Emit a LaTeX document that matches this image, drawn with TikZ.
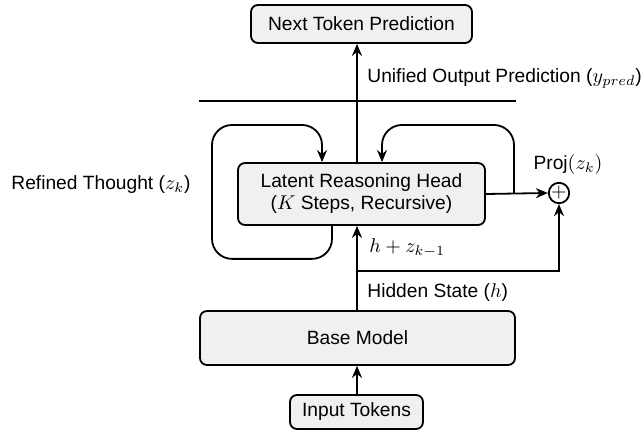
\documentclass[tikz,border=0pt]{standalone}
\usepackage{fontspec}
\setmainfont{Liberation Sans}
\usetikzlibrary{arrows.meta}
\begin{document}
\begin{tikzpicture}[x=0.5pt,y=-0.5pt,
    font=\fontsize{9.6}{11}\selectfont,
    blk/.style={draw,line width=0.9pt,rounded corners=3.5pt,fill=gray!12,align=center,inner sep=1pt},
    arr/.style={-{Stealth[length=6pt,width=5pt]},line width=0.9pt},
    lbl/.style={anchor=west,inner sep=0pt},
    sum/.style={draw,circle,line width=0.9pt,minimum size=10pt,inner sep=0pt}]
  \useasboundingbox (0,0) rectangle (642,431);
  \node[blk,minimum width=110.5pt,minimum height=19pt] (next) at (361.5,24) {Next Token Prediction};
  \node[blk,minimum width=123.5pt,minimum height=31pt] (lrh) at (361.5,194) {Latent Reasoning Head\\($K$ Steps, Recursive)};
  \node[blk,minimum width=157.5pt,minimum height=27pt] (base) at (357.5,338) {Base Model};
  \node[blk,minimum width=66.5pt,minimum height=17pt] (input) at (356.5,412) {Input Tokens};
  \node[sum] (sum) at (559,193) {$+$};
  \node (proj) at (568,165) {Proj$(z_k)$};
  \node[lbl] (out) at (367,78) {Unified Output Prediction ($y_{pred}$)};
  \node[lbl] (hz) at (369,248) {$h+z_{k-1}$};
  \node[lbl] (hid) at (367,293) {Hidden State ($h$)};
  \node[lbl] (ref) at (11,185) {Refined Thought ($z_k$)};
  \coordinate (tap) at (514,194);
  \coordinate (split) at (357,271);
  \coordinate (ltop) at (212,125);
  \coordinate (rtop) at (514,125);
  \draw[line width=0.9pt] (199,101) -- (516,101);
  \draw[arr] (input.north -| split) -- (base.south -| split);
  \draw[arr] (base.north -| split) -- (lrh.south -| split);
  \draw[arr] (lrh.north -| split) -- (next.south -| split);
  \draw[arr] (lrh.east) -- (sum.west);
  \draw[arr] (split) -| (sum.south);
  \begin{scope}[rounded corners=10pt]
    \draw[arr] ([xshift=-14.75pt]lrh.south) -- ++(0,33) -| (ltop) -| ([xshift=-19.75pt]lrh.north);
    \draw[arr] (tap) -- (rtop) -| ([xshift=10.25pt]lrh.north);
  \end{scope}
\end{tikzpicture}
\end{document}
